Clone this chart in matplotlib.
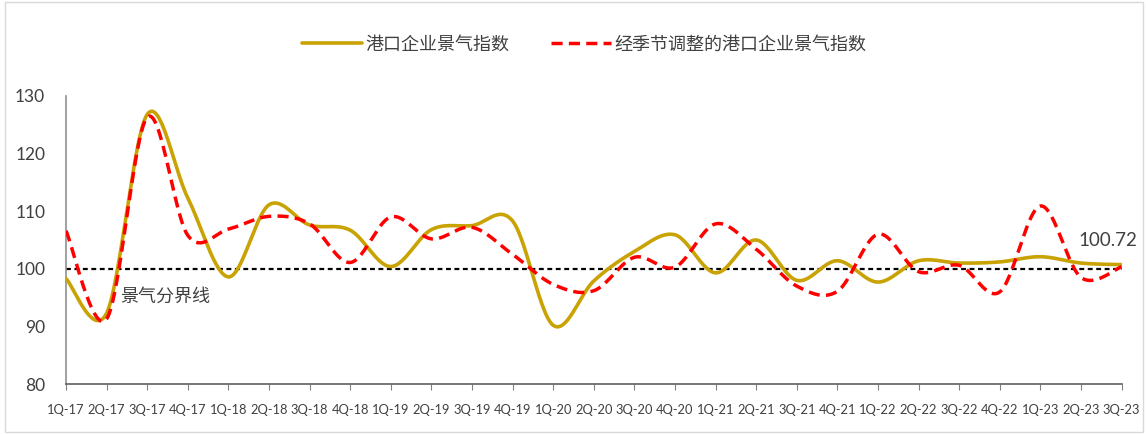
import numpy as np
import matplotlib
matplotlib.use("Agg")
import matplotlib.pyplot as plt
from matplotlib.patches import Rectangle

plt.rcParams['font.family'] = ['Noto Sans CJK SC', 'DejaVu Sans']

categories = ["1Q-17", "2Q-17", "3Q-17", "4Q-17", "1Q-18", "2Q-18", "3Q-18", "4Q-18",
              "1Q-19", "2Q-19", "3Q-19", "4Q-19", "1Q-20", "2Q-20", "3Q-20", "4Q-20",
              "1Q-21", "2Q-21", "3Q-21", "4Q-21", "1Q-22", "2Q-22", "3Q-22", "4Q-22",
              "1Q-23", "2Q-23", "3Q-23"]
port_index = [98.3, 92.3, 126.8, 112.3, 98.6, 111.1, 107.6, 106.7, 100.4, 106.8,
              107.5, 108.3, 90.2, 97.9, 103.0, 105.9, 99.3, 105.0, 98.0, 101.4,
              97.7, 101.4, 101.0, 101.2, 102.1, 101.0, 100.72]
port_index_sa = [106.6, 91.3, 126.3, 105.8, 106.9, 109.1, 107.8, 101.1, 109.0, 105.2,
                 107.2, 102.5, 97.3, 96.2, 102.0, 100.3, 107.8, 103.4, 97.0, 96.1,
                 106.0, 99.5, 100.6, 96.0, 110.9, 98.5, 100.35]
y_ticks = [80, 90, 100, 110, 120, 130]
threshold = 100
last_label = "100.72"


def smooth(xs, ys, n=30):
    """Excel-style smoothed line (Catmull-Rom Bezier through the points)."""
    xs = np.asarray(xs, float)
    ys = np.asarray(ys, float)
    P = np.column_stack([xs, ys])
    m = len(P)
    out = []
    t = np.linspace(0, 1, n)[:, None]
    for i in range(m - 1):
        p0 = P[i - 1] if i > 0 else P[i]
        p1 = P[i]
        p2 = P[i + 1]
        p3 = P[i + 2] if i + 2 < m else P[i + 1]
        c1 = p1 + (p2 - p0) / 6.0
        c2 = p2 - (p3 - p1) / 6.0
        seg = ((1 - t) ** 3) * p1 + 3 * ((1 - t) ** 2) * t * c1 + 3 * (1 - t) * t ** 2 * c2 + t ** 3 * p2
        out.append(seg if i == 0 else seg[1:])
    out = np.vstack(out)
    return out[:, 0], out[:, 1]


fig = plt.figure(figsize=(11.48, 4.34), dpi=100)
ax = fig.add_axes([0.0575, 0.115, 0.9195, 0.664])

x = np.arange(len(categories))
gold = "#C9A203"
red = "#FF0000"

ax.axhline(threshold, color="black", lw=1.6, ls=(0, (2.2, 1.6)), zorder=2)

sx, sy = smooth(x, port_index)
ax.plot(sx, sy, color=gold, lw=2.6, solid_capstyle="round", zorder=3,
        label="港口企业景气指数")
dx, dy = smooth(x, port_index_sa)
ax.plot(dx, dy, color=red, lw=2.5, ls=(0, (3.2, 1.8)), zorder=4,
        label="经季节调整的港口企业景气指数")

ax.set_xlim(0, len(categories) - 1)
ax.set_ylim(80, 130)
ax.set_yticks(y_ticks)
ax.set_yticklabels([str(v) for v in y_ticks], fontsize=12.5, color="#404040",
                   family=['Lato', 'DejaVu Sans'])
ax.set_xticks(x)
ax.set_xticklabels(categories, fontsize=9.3, color="#404040", family=['Lato', 'DejaVu Sans'])
ax.tick_params(axis='y', length=0, pad=15)
ax.tick_params(axis='x', length=4, direction='out', color="#808080", pad=10)

for s in ["top", "right"]:
    ax.spines[s].set_visible(False)
ax.spines["left"].set_color("#909090")
ax.spines["bottom"].set_color("#606060")
ax.spines["left"].set_linewidth(1.2)
ax.spines["bottom"].set_linewidth(1.2)

ax.text(1.33, 95.1, "景气分界线", fontsize=13, color="#404040", ha="left", va="center")
ax.text(25.66, 104.9, last_label, fontsize=13.5, color="#404040",
        ha="center", va="center", family=['Lato', 'DejaVu Sans'])

leg = fig.legend(loc="upper center", bbox_to_anchor=(0.509, 0.955), ncol=2, frameon=False,
                 fontsize=13, handlelength=3.3, handletextpad=0.2, columnspacing=2.3,
                 labelcolor="#404040")

fig.add_artist(Rectangle((0.004, 0.004), 0.992, 0.992, transform=fig.transFigure,
                         fill=False, edgecolor="#D9D9D9", lw=1.0))

fig.savefig("out.png", dpi=100)
